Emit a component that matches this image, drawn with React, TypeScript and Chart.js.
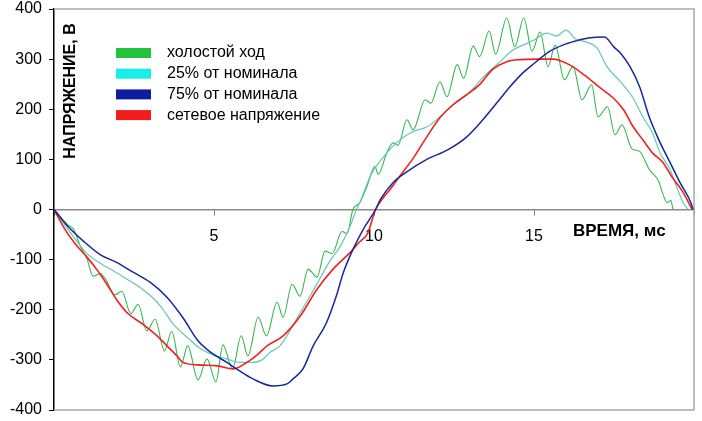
import React, { useEffect, useRef } from 'react';
import { Chart, registerables } from 'chart.js';

Chart.register(...registerables);

// ---- data (time in ms, voltage in V) ----
const noLoadT = [0, 0.3, 0.45, 0.6, 0.84, 1.03, 1.22, 1.44, 1.62, 1.9, 2.12, 2.4, 2.63, 2.9, 3.16, 3.45, 3.68, 3.95, 4.18, 4.5, 4.78, 5.06, 5.28, 5.58, 5.85, 6.06, 6.38, 6.64, 6.97, 7.16, 7.44, 7.69, 7.94, 8.22, 8.47, 8.69, 9.0, 9.16, 9.34, 9.56, 9.78, 10.03, 10.13, 10.4, 10.6, 10.75, 11.03, 11.22, 11.6, 11.78, 12.06, 12.28, 12.6, 12.8, 13.1, 13.3, 13.6, 13.8, 14.15, 14.4, 14.68, 14.94, 15.19, 15.44, 15.66, 15.95, 16.22, 16.5, 16.8, 17.0, 17.3, 17.53, 17.75, 18.06, 18.3, 18.6, 18.9, 19.0, 19.16, 19.28, 19.34];
const noLoadV = [0, -22, -32, -38, -76, -98, -133, -128, -140, -170, -163, -208, -189, -242, -219, -282, -243, -314, -272, -340, -298, -344, -270, -318, -252, -292, -215, -252, -185, -215, -149, -173, -119, -135, -83, -88, -44, -48, 0, 14, 46, 86, 70, 113, 133, 128, 179, 159, 219, 212, 255, 225, 289, 262, 326, 305, 356, 310, 382, 325, 382, 316, 354, 285, 328, 259, 285, 219, 249, 185, 205, 149, 169, 121, 116, 80, 56, 36, 14, 18, 0];

const load25T = [0, 0.5, 1.03, 1.47, 1.88, 2.28, 2.72, 3.12, 3.4, 3.72, 4.16, 4.56, 4.97, 5.4, 5.8, 6.2, 6.5, 6.75, 7.06, 7.4, 7.7, 8.0, 8.3, 8.6, 8.94, 9.25, 9.45, 9.56, 9.88, 10.3, 10.7, 11.2, 11.66, 12.06, 12.47, 13.0, 13.4, 13.94, 14.34, 14.8, 15.0, 15.4, 15.7, 16.0, 16.3, 16.6, 16.97, 17.28, 17.7, 18.1, 18.4, 18.7, 18.94, 19.25, 19.5, 19.66, 19.82];
const load25V = [0, -45, -88, -108, -123, -139, -157, -178, -199, -228, -255, -277, -290, -298, -305, -305, -300, -285, -272, -239, -205, -173, -139, -105, -74, -34, 0, 14, 66, 105, 133, 155, 165, 185, 209, 235, 263, 295, 318, 332, 338, 352, 346, 358, 340, 335, 322, 285, 255, 222, 185, 153, 113, 80, 38, 14, 0];

const load75T = [0, 0.47, 0.9, 1.44, 1.97, 2.47, 3.0, 3.53, 4.03, 4.5, 4.9, 5.4, 5.8, 6.22, 6.84, 7.28, 7.47, 7.78, 8.1, 8.5, 8.84, 9.03, 9.34, 9.66, 10.05, 10.2, 10.6, 11.0, 11.65, 12.3, 12.9, 13.4, 13.84, 14.25, 14.66, 14.9, 15.5, 15.9, 16.3, 16.7, 17.2, 17.5, 17.7, 18.0, 18.3, 18.6, 18.9, 19.25, 19.56, 19.9, 19.97];
const load75V = [0, -36, -62, -90, -106, -125, -145, -175, -216, -262, -285, -305, -322, -338, -352, -348, -338, -318, -272, -228, -169, -128, -80, -40, 0, 20, 54, 74, 100, 119, 145, 179, 213, 245, 273, 286, 316, 328, 336, 342, 344, 324, 312, 285, 245, 185, 139, 94, 54, 14, 0];

const gridT = [0, 0.31, 0.63, 1.03, 1.34, 1.66, 1.97, 2.3, 2.78, 3.22, 3.53, 3.84, 4.03, 4.5, 5.1, 5.6, 6.03, 6.35, 6.66, 7.16, 7.69, 8.22, 8.72, 9.25, 9.56, 9.8, 10.05, 10.25, 10.5, 10.8, 11.2, 11.65, 12.06, 12.47, 12.9, 13.3, 13.7, 14.15, 14.56, 15.1, 15.6, 16.1, 16.6, 17.06, 17.47, 17.8, 18.1, 18.4, 18.7, 19.03, 19.3, 19.66, 19.94];
const gridV = [0, -36, -66, -95, -120, -150, -181, -207, -229, -252, -272, -292, -305, -310, -312, -318, -305, -290, -272, -252, -213, -159, -119, -86, -64, -48, 0, 20, 40, 66, 100, 145, 183, 209, 229, 249, 279, 295, 299, 300, 300, 289, 267, 243, 223, 199, 165, 139, 113, 94, 66, 34, 0];

const seriesNames = ['холостой ход', '25% от номинала', '75% от номинала', 'сетевое напряжение'];
const legendColors = ['#22c33a', '#16eee8', '#0c1e9e', '#f21c1c'];
const lineColors = ['#35b84e', '#62c9b2', '#142a9c', '#f22020'];
const xTitle = 'ВРЕМЯ, мс';
const yTitle = 'НАПРЯЖЕНИЕ, В';
const xMin = 0, xMax = 20, xStep = 5;
const yMin = -400, yMax = 400, yStep = 100;

const FONT = "'Liberation Sans', Arial, Helvetica, sans-serif";

function toXY(t: number[], v: number[]) {
  return t.map((x, i) => ({ x, y: v[i] }));
}

const decorPlugin = {
  id: 'decor',
  beforeDatasetsDraw(chart: any) {
    const { ctx, chartArea: a } = chart;
    ctx.save();
    ctx.strokeStyle = '#a8a8a8';
    ctx.lineWidth = 1.5;
    ctx.beginPath();
    ctx.moveTo(a.left, a.top);
    ctx.lineTo(a.right, a.top);
    ctx.lineTo(a.right, a.bottom);
    ctx.lineTo(a.left, a.bottom);
    ctx.stroke();
    ctx.restore();
  },
  afterDraw(chart: any) {
    const { ctx } = chart;
    ctx.save();
    // legend
    ctx.font = `16px ${FONT}`;
    ctx.textAlign = 'left';
    ctx.textBaseline = 'middle';
    const rowY = [48, 68.7, 89.4, 110.1];
    seriesNames.forEach((name, i) => {
      ctx.fillStyle = legendColors[i];
      ctx.fillRect(116, rowY[i], 35, 10);
      ctx.fillStyle = '#000';
      ctx.fillText(name, 167, rowY[i] + 5);
    });
    // y title
    ctx.font = `bold 16px ${FONT}`;
    ctx.save();
    ctx.translate(71, 91);
    ctx.rotate(-Math.PI / 2);
    ctx.textAlign = 'center';
    ctx.textBaseline = 'middle';
    ctx.fillText(yTitle, 0, 0);
    ctx.restore();
    // x title
    ctx.font = `bold 17px ${FONT}`;
    ctx.textAlign = 'left';
    ctx.textBaseline = 'middle';
    ctx.fillText(xTitle, 573, 231);
    ctx.restore();
  },
};

export default function App() {
  const ref = useRef<HTMLCanvasElement | null>(null);

  useEffect(() => {
    if (!ref.current) return;
    const datasets = [
      { label: seriesNames[0], data: toXY(noLoadT, noLoadV), borderColor: lineColors[0], borderWidth: 1.1, order: 3 },
      { label: seriesNames[1], data: toXY(load25T, load25V), borderColor: lineColors[1], borderWidth: 1.2, order: 2 },
      { label: seriesNames[2], data: toXY(load75T, load75V), borderColor: lineColors[2], borderWidth: 1.5, order: 0 },
      { label: seriesNames[3], data: toXY(gridT, gridV), borderColor: lineColors[3], borderWidth: 1.6, order: 1 },
    ].map((d) => ({ ...d, pointRadius: 0, fill: false, cubicInterpolationMode: 'monotone' as const }));

    const chart = new Chart(ref.current, {
      type: 'line',
      data: { datasets },
      options: {
        animation: false,
        responsive: false,
        devicePixelRatio: 1,
        layout: { padding: { left: 0, top: 9, right: 8, bottom: 11 } },
        plugins: { legend: { display: false }, tooltip: { enabled: false } },
        scales: {
          x: {
            type: 'linear',
            min: xMin,
            max: xMax,
            position: { y: 0 } as any,
            afterFit: (s: any) => { s.paddingLeft = 0; s.paddingRight = 0; s.paddingTop = 0; s.paddingBottom = 0; },
            ticks: {
              stepSize: xStep,
              color: '#000',
              font: { size: 16, family: FONT },
              padding: 12,
              maxRotation: 0,
              callback: (v: any) => (v === xMin || v === xMax ? '' : String(v)),
            },
            grid: { display: true, drawOnChartArea: false, drawTicks: true, tickLength: 5, color: '#777' },
            border: { display: true, color: '#8a8a8a', width: 1.5 },
          },
          y: {
            type: 'linear',
            min: yMin,
            max: yMax,
            position: 'left',
            afterFit: (s: any) => { s.width = 54; s.paddingTop = 0; s.paddingBottom = 0; },
            ticks: {
              stepSize: yStep,
              color: '#000',
              font: { size: 16, family: FONT },
              padding: 7,
            },
            grid: { display: true, drawOnChartArea: false, drawTicks: true, tickLength: 5, color: '#000' },
            border: { display: true, color: '#000', width: 1.5 },
          },
        },
      },
      plugins: [decorPlugin],
    });
    return () => chart.destroy();
  }, []);

  return (
    <div style={{ position: 'absolute', left: 0, top: 0, width: 702, height: 421, background: '#fff' }}>
      <canvas ref={ref} width={702} height={421} style={{ display: 'block' }} />
    </div>
  );
}
